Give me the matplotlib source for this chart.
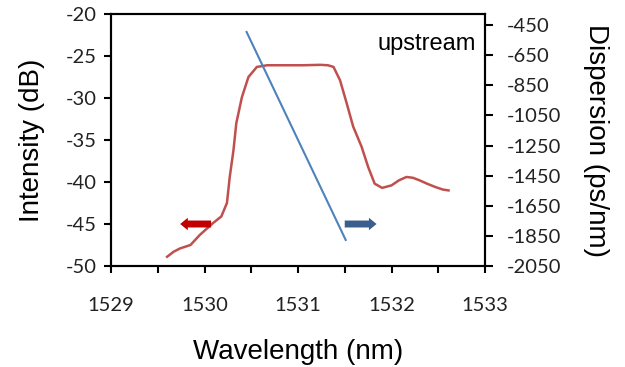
import numpy as np
import matplotlib
matplotlib.use('Agg')
import matplotlib.pyplot as plt
from matplotlib.ticker import MultipleLocator, FuncFormatter

plt.rcParams['axes.unicode_minus'] = False

# intensity spectrum (red)
wl = [1529.60, 1529.67, 1529.74, 1529.85, 1529.95, 1530.03, 1530.09, 1530.18,
      1530.24, 1530.27, 1530.31, 1530.34, 1530.40, 1530.47, 1530.56, 1530.67,
      1530.85, 1531.05, 1531.24, 1531.32, 1531.38, 1531.45, 1531.52, 1531.59,
      1531.68, 1531.75, 1531.82, 1531.90, 1532.00, 1532.08, 1532.16, 1532.23,
      1532.30, 1532.38, 1532.47, 1532.55, 1532.61]
inten = [-48.9, -48.3, -47.9, -47.5, -46.3, -45.5, -44.9, -44.1,
         -42.5, -39.4, -36.2, -33.0, -29.9, -27.5, -26.3, -26.1,
         -26.1, -26.1, -26.05, -26.1, -26.3, -27.9, -30.6, -33.4,
         -35.8, -38.2, -40.2, -40.7, -40.4, -39.8, -39.4, -39.5,
         -39.8, -40.2, -40.6, -40.9, -41.0]

# dispersion line (blue)
wl_d = [1530.45, 1531.51]
disp = [-496, -1877]

fig = plt.figure(figsize=(6.25, 3.67), dpi=100)
ax = fig.add_axes([0.1776, 0.2752, 0.5984, 0.6866])
ax2 = ax.twinx()

ax.plot(wl, inten, color='#c0504d', lw=1.8, zorder=3)
ax2.plot(wl_d, disp, color='#4f81bd', lw=1.5)

ax.set_xlim(1529, 1533)
ax.set_ylim(-50, -20)
ax2.set_ylim(-2050, -377)

ax.xaxis.set_major_locator(MultipleLocator(0.5))
ax.xaxis.set_major_formatter(FuncFormatter(lambda v, p: '%d' % v if abs(v - round(v)) < 1e-6 else ''))
ax.yaxis.set_major_locator(MultipleLocator(5))
ax2.set_yticks(np.arange(-2050, -449, 200))

ax.tick_params(axis='x', direction='out', length=5, width=1.5, pad=17, labelsize=14.5)
ax.tick_params(axis='y', direction='out', length=5, width=1.5, pad=5, labelsize=14.5)
ax2.tick_params(axis='y', direction='out', length=6, width=1.5, pad=10, labelsize=14.5)
for lab in ax.get_xticklabels() + ax.get_yticklabels() + ax2.get_yticklabels():
    lab.set_family('Lato')
    lab.set_color('#222222')

for a in (ax, ax2):
    for s in a.spines.values():
        s.set_linewidth(1.5)

ax.set_xlabel('Wavelength (nm)', family='Liberation Sans', fontsize=20, labelpad=18)
ax.set_ylabel('Intensity (dB)', family='Liberation Sans', fontsize=20, labelpad=15)
ax2.set_ylabel('Dispersion (ps/nm)', family='Liberation Sans', fontsize=20, rotation=270, labelpad=34)

ax.text(0.975, 0.88, 'upstream', transform=ax.transAxes, ha='right', va='center',
        family='Liberation Sans', fontsize=17)

# direction arrows
ax.annotate('', xy=(1529.71, -45), xytext=(1530.10, -45),
            arrowprops=dict(arrowstyle='simple,head_length=0.55,head_width=0.9,tail_width=0.5',
                            color='#c00000', lw=0))
ax.annotate('', xy=(1531.87, -45), xytext=(1531.47, -45),
            arrowprops=dict(arrowstyle='simple,head_length=0.55,head_width=0.9,tail_width=0.5',
                            color='#3a5f8c', lw=0))

plt.savefig('out.png', dpi=100)
